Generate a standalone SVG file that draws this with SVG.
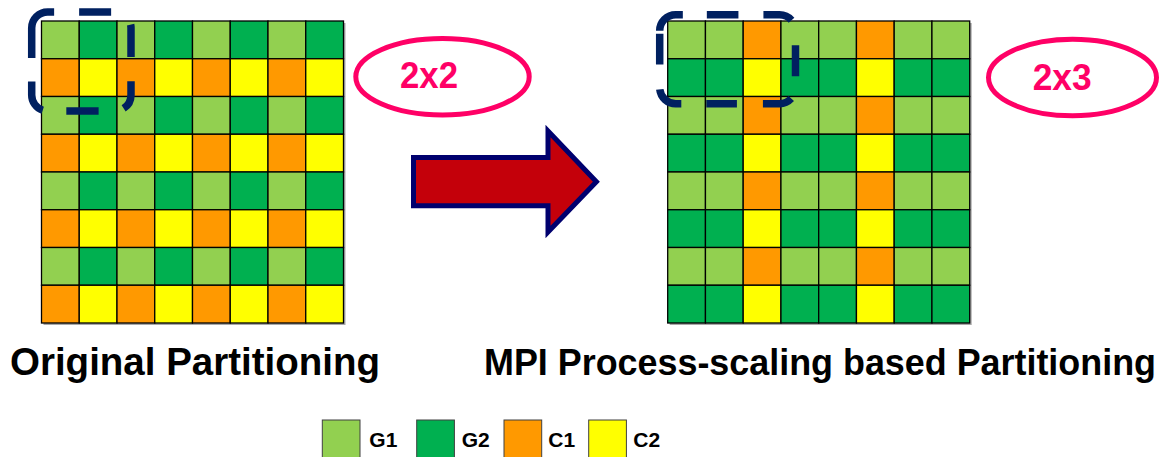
<svg xmlns="http://www.w3.org/2000/svg" xmlns:xlink="http://www.w3.org/1999/xlink" width="1165" height="457" viewBox="0 0 1165 457">
<style>
.cell{stroke:#000;stroke-width:1.3}
.g1{fill:#92D050}.g2{fill:#00B050}.c1{fill:#FF9900}.c2{fill:#FFFF00}
.shadow{fill:#a8a8a8}
.dash{fill:none;stroke:#002060;stroke-width:7.5;stroke-linecap:butt}
.oval{fill:none;stroke:#FF0066;stroke-width:5}
.ovaltxt{font-family:"Liberation Sans",Arial,sans-serif;font-weight:700;font-size:36px;fill:#FF0066}
.title{font-family:"Liberation Sans",Arial,sans-serif;font-weight:700;font-size:39px;fill:#000}
.leg{font-family:"Liberation Sans",Arial,sans-serif;font-weight:700;font-size:21px;fill:#000}
.legbox{stroke:#404040;stroke-width:1}
.arrow{fill:#C4000A;stroke:#00006E;stroke-width:5;stroke-linejoin:miter}
</style>
<defs>
<g id="lA">
<rect class="cell g1" x="0" y="0" width="37.75" height="37.75"/>
<rect class="cell g2" x="37.75" y="0" width="37.75" height="37.75"/>
<rect class="cell g1" x="75.5" y="0" width="37.75" height="37.75"/>
<rect class="cell g2" x="113.25" y="0" width="37.75" height="37.75"/>
<rect class="cell g1" x="151" y="0" width="37.75" height="37.75"/>
<rect class="cell g2" x="188.75" y="0" width="37.75" height="37.75"/>
<rect class="cell g1" x="226.5" y="0" width="37.75" height="37.75"/>
<rect class="cell g2" x="264.25" y="0" width="37.75" height="37.75"/>
</g>
<g id="lB">
<rect class="cell c1" x="0" y="0" width="37.75" height="37.75"/>
<rect class="cell c2" x="37.75" y="0" width="37.75" height="37.75"/>
<rect class="cell c1" x="75.5" y="0" width="37.75" height="37.75"/>
<rect class="cell c2" x="113.25" y="0" width="37.75" height="37.75"/>
<rect class="cell c1" x="151" y="0" width="37.75" height="37.75"/>
<rect class="cell c2" x="188.75" y="0" width="37.75" height="37.75"/>
<rect class="cell c1" x="226.5" y="0" width="37.75" height="37.75"/>
<rect class="cell c2" x="264.25" y="0" width="37.75" height="37.75"/>
</g>
<g id="rA">
<rect class="cell g1" x="0" y="0" width="37.75" height="37.75"/>
<rect class="cell g1" x="37.75" y="0" width="37.75" height="37.75"/>
<rect class="cell c1" x="75.5" y="0" width="37.75" height="37.75"/>
<rect class="cell g1" x="113.25" y="0" width="37.75" height="37.75"/>
<rect class="cell g1" x="151" y="0" width="37.75" height="37.75"/>
<rect class="cell c1" x="188.75" y="0" width="37.75" height="37.75"/>
<rect class="cell g1" x="226.5" y="0" width="37.75" height="37.75"/>
<rect class="cell g1" x="264.25" y="0" width="37.75" height="37.75"/>
</g>
<g id="rB">
<rect class="cell g2" x="0" y="0" width="37.75" height="37.75"/>
<rect class="cell g2" x="37.75" y="0" width="37.75" height="37.75"/>
<rect class="cell c2" x="75.5" y="0" width="37.75" height="37.75"/>
<rect class="cell g2" x="113.25" y="0" width="37.75" height="37.75"/>
<rect class="cell g2" x="151" y="0" width="37.75" height="37.75"/>
<rect class="cell c2" x="188.75" y="0" width="37.75" height="37.75"/>
<rect class="cell g2" x="226.5" y="0" width="37.75" height="37.75"/>
<rect class="cell g2" x="264.25" y="0" width="37.75" height="37.75"/>
</g>
</defs>

<g id="left-grid">
<rect class="shadow" x="43.5" y="23" width="302" height="302"/>
<g transform="translate(41.5,21)">
<use xlink:href="#lA" y="0"/>
<use xlink:href="#lB" y="37.75"/>
<use xlink:href="#lA" y="75.5"/>
<use xlink:href="#lB" y="113.25"/>
<use xlink:href="#lA" y="151"/>
<use xlink:href="#lB" y="188.75"/>
<use xlink:href="#lA" y="226.5"/>
<use xlink:href="#lB" y="264.25"/>
</g>
</g>

<g id="right-grid">
<rect class="shadow" x="669.7" y="23" width="302" height="302"/>
<g transform="translate(667.7,21)">
<use xlink:href="#rA" y="0"/>
<use xlink:href="#rB" y="37.75"/>
<use xlink:href="#rA" y="75.5"/>
<use xlink:href="#rB" y="113.25"/>
<use xlink:href="#rA" y="151"/>
<use xlink:href="#rB" y="188.75"/>
<use xlink:href="#rA" y="226.5"/>
<use xlink:href="#rB" y="264.25"/>
</g>
</g>

<g id="left-block">
<path class="dash" d="M31.7,58 V28 A16,16 0 0 1 47.7,12 H115 A16,16 0 0 1 131,28 V95 A16,16 0 0 1 115,111 H47.7 A16,16 0 0 1 31.7,95 Z" stroke-dasharray="61.4 25 32 25.4 32.4 24.3 29.6 25.5 32.3 23.7 33.4 24"/>
</g>

<g id="right-block">
<path class="dash" d="M659.7,30.7 A16,16 0 0 1 675.7,14.7 H779.5 A16,16 0 0 1 795.5,30.7 V87.7 A16,16 0 0 1 779.5,103.7 H675.7 A16,16 0 0 1 659.7,87.7 Z" stroke-dasharray="32.1 24 31.6 25 29.6 26 31 23.3 29.7 26 30.6 25 28.8 25 30.7 3.6"/>
</g>

<g id="label-2x2">
<ellipse class="oval" cx="442.5" cy="76.7" rx="86.7" ry="38.2"/>
<text class="ovaltxt" x="400" y="88.3" textLength="58" lengthAdjust="spacingAndGlyphs">2x2</text>
</g>

<g id="label-2x3">
<ellipse class="oval" cx="1072.5" cy="77.5" rx="84" ry="38.3"/>
<text class="ovaltxt" x="1032.7" y="90" textLength="59" lengthAdjust="spacingAndGlyphs">2x3</text>
</g>

<g id="connectors">
<path class="arrow" d="M413.5,157.5 H548 V131 L596.4,181.7 L548,232 V205.8 H413.5 Z"/>
</g>

<g id="title-left">
<text class="title" x="10" y="375" textLength="370" lengthAdjust="spacingAndGlyphs">Original Partitioning</text>
</g>
<g id="title-right">
<text class="title" x="484" y="375" style="font-size:36px" textLength="672" lengthAdjust="spacingAndGlyphs">MPI Process-scaling based Partitioning</text>
</g>

<g id="legend">
<rect class="legbox g1" x="322.3" y="420" width="37.7" height="45"/>
<text class="leg" x="369.3" y="446.7">G1</text>
<rect class="legbox g2" x="416.7" y="420" width="37.7" height="45"/>
<text class="leg" x="461.7" y="446.7">G2</text>
<rect class="legbox c1" x="504" y="420" width="37.7" height="45"/>
<text class="leg" x="548.3" y="446.7">C1</text>
<rect class="legbox c2" x="588.7" y="420" width="37.7" height="45"/>
<text class="leg" x="633.3" y="446.7">C2</text>
</g>
</svg>
